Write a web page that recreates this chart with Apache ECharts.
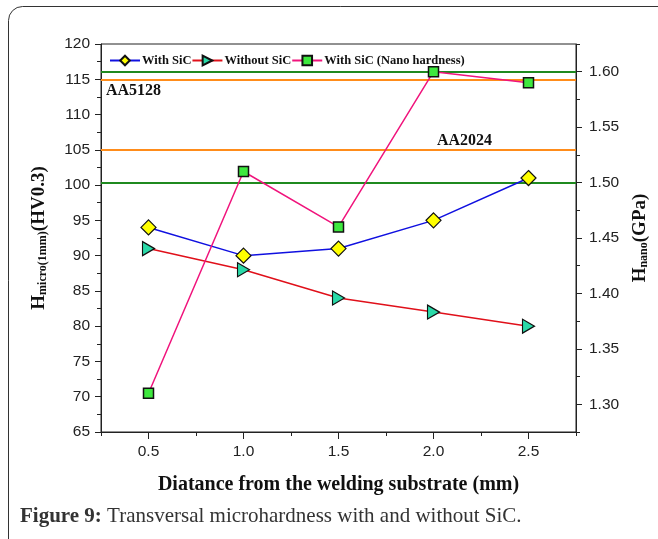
<!DOCTYPE html>
<html><head><meta charset="utf-8">
<script src="https://cdn.jsdelivr.net/npm/echarts@6/dist/echarts.min.js"></script>
<style>html,body{margin:0;padding:0;background:#fff;}#c{width:658px;height:539px;}</style>
</head><body><div id="c"></div>
<script>
var distances = [0.5, 1.0, 1.5, 2.0, 2.5];
var withSiC = [94, 90, 91, 95, 101];
var withoutSiC = [91, 88, 84, 82, 80];
var nanoWithSiC = [1.31, 1.51, 1.46, 1.60, 1.59];
var orangeRefs = [115, 105];       // left axis (HV)
var greenRefs = [1.60, 1.50];      // right axis (GPa)
var rightTicks = [1.30,1.35,1.40,1.45,1.50,1.55,1.60];
var rightMinorTicks = [1.275,1.325,1.375,1.425,1.475,1.525,1.575,1.625];
var xTicks = [0.5,1.0,1.5,2.0,2.5];
var xMinorTicks = [0.25,0.75,1.25,1.75,2.25,2.75];
var refLabels = ['AA5128','AA2024'];

function pairs(xs, ys){ return xs.map(function(x,i){return [x, ys[i]];}); }
var serif = '"Liberation Serif","Times New Roman",serif';
var sans = '"Liberation Sans",Arial,sans-serif';
var titleRich = {
  h:{fontFamily:serif, fontWeight:'bold', fontSize:19, color:'#111', verticalAlign:'bottom', lineHeight:25},
  s:{fontFamily:serif, fontWeight:'bold', fontSize:12, color:'#111', verticalAlign:'bottom', lineHeight:16}
};

var chart = echarts.init(document.getElementById('c'), null, {renderer:'canvas'});
chart.setOption({
  animation:false,
  backgroundColor:'#fff',
  grid:{left:101, right:82, top:44, bottom:107, show:true, borderColor:'#222', borderWidth:1, backgroundColor:'transparent'},
  legend:{
    left:104, top:49, itemWidth:30, itemHeight:12, itemGap:0,
    textStyle:{fontFamily:serif, fontWeight:'bold', fontSize:12.5, color:'#111', padding:[0,0,0,-3]},
    data:['With SiC','Without SiC','With SiC (Nano hardness)']
  },
  xAxis:[{
    type:'value', min:0.25, max:2.75,
    name:'Diatance from the welding substrate (mm)', nameLocation:'middle', nameGap:43,
    nameTextStyle:{fontFamily:serif, fontWeight:'bold', fontSize:20, color:'#111'},
    axisLine:{show:true, onZero:false, lineStyle:{color:'#222', width:1}},
    axisTick:{show:true, inside:false, length:7, customValues:xTicks, lineStyle:{color:'#222'}},
    axisLabel:{customValues:xTicks, margin:12, fontFamily:sans, fontSize:15.5, color:'#222', formatter:function(v){return v.toFixed(1);}},
    splitLine:{show:false}
  },{
    type:'value', min:0.25, max:2.75, position:'bottom',
    axisLine:{show:false, onZero:false},
    axisTick:{show:true, length:4, customValues:xMinorTicks, lineStyle:{color:'#222'}},
    axisLabel:{show:false},
    splitLine:{show:false}
  }],
  yAxis:[{
    type:'value', min:65, max:120, interval:5, position:'left',
    name:'{h|H}{s|micro(1mm)}{h|(HV0.3)}', nameLocation:'middle', nameGap:52, nameRotate:90,
    nameTextStyle:{rich:titleRich},
    axisLine:{show:true, lineStyle:{color:'#222'}},
    axisTick:{show:true, length:6, lineStyle:{color:'#222'}},
    minorTick:{show:true, splitNumber:2, length:4, lineStyle:{color:'#222'}},
    axisLabel:{margin:11, fontFamily:sans, fontSize:15.5, color:'#222'},
    splitLine:{show:false}
  },{
    type:'value', min:1.275, max:1.625, position:'right',
    name:'{h|H}{s|nano}{h|(GPa)}', nameLocation:'middle', nameGap:49, nameRotate:90,
    nameTextStyle:{rich:titleRich},
    axisLine:{show:true, lineStyle:{color:'#222'}},
    axisTick:{show:true, length:6, customValues:rightTicks, lineStyle:{color:'#222'}},
    axisLabel:{customValues:rightTicks, margin:13, fontFamily:sans, fontSize:15.5, color:'#222', formatter:function(v){return v.toFixed(2);}},
    splitLine:{show:false}
  },{
    type:'value', min:1.275, max:1.625, position:'right',
    axisLine:{show:false},
    axisTick:{show:true, length:4, customValues:rightMinorTicks, lineStyle:{color:'#222'}},
    axisLabel:{show:false},
    splitLine:{show:false}
  }],
  series:[{
    name:'With SiC', type:'line', yAxisIndex:0, data:pairs(distances, withSiC),
    symbol:'diamond', symbolSize:[15,15], z:5,
    lineStyle:{color:'#1010e0', width:1.5},
    itemStyle:{color:'#ffff00', borderColor:'#111', borderWidth:1.2},
    markLine:{silent:true, symbol:'none', label:{show:false},
      lineStyle:{color:'#ff8c1a', width:2, type:'solid'},
      data:orangeRefs.map(function(v){return {yAxis:v};})}
  },{
    name:'Without SiC', type:'line', yAxisIndex:0, data:pairs(distances, withoutSiC),
    symbol:'triangle', symbolSize:[14,12], symbolRotate:-90, z:5,
    lineStyle:{color:'#e0101a', width:1.5},
    itemStyle:{color:'#2ad9a8', borderColor:'#111', borderWidth:1.2}
  },{
    name:'With SiC (Nano hardness)', type:'line', yAxisIndex:1, data:pairs(distances, nanoWithSiC),
    symbol:'rect', symbolSize:[10,10], z:5,
    lineStyle:{color:'#f0147c', width:1.5},
    itemStyle:{color:'#3ee83e', borderColor:'#111', borderWidth:1.5},
    markLine:{silent:true, symbol:'none', label:{show:false},
      lineStyle:{color:'#1f8a1f', width:2, type:'solid'},
      data:greenRefs.map(function(v){return {yAxis:v};})}
  }],
  graphic:[
    {type:'rect', shape:{x:8.5, y:6.5, width:680, height:560, r:14}, style:{fill:'none', stroke:'#333', lineWidth:1}, z:-10},
    {type:'text', left:106, top:83, style:{text:refLabels[0], font:'bold 16px '+serif, fill:'#111'}},
    {type:'text', left:437, top:133, style:{text:refLabels[1], font:'bold 16px '+serif, fill:'#111'}},
    {type:'text', left:20, top:506, style:{
      text:'{b|Figure 9:}{r| Transversal microhardness with and without SiC.}',
      rich:{b:{fontFamily:serif, fontWeight:'bold', fontSize:21, fill:'#333'}, r:{fontFamily:serif, fontSize:21, fill:'#333'}}
    }}
  ]
});
</script></body></html>
